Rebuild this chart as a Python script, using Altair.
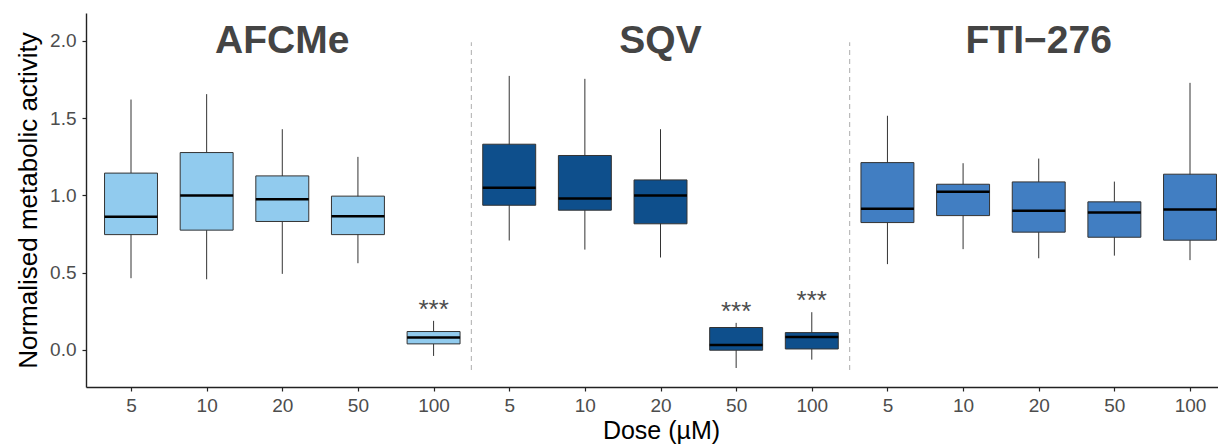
import altair as alt
import pandas as pd

drugs = ["AFCMe"] * 5 + ["SQV"] * 5 + ["FTI−276"] * 5
doses = ["5", "10", "20", "50", "100"] * 3
lower = [0.464, 0.457, 0.492, 0.561, -0.039,
         0.708, 0.649, 0.598, -0.117, -0.063,
         0.555, 0.652, 0.593, 0.610, 0.581]
q1 = [0.746, 0.775, 0.831, 0.746, 0.039,
      0.936, 0.904, 0.816, -0.002, 0.006,
      0.824, 0.869, 0.762, 0.729, 0.710]
median = [0.861, 0.999, 0.975, 0.865, 0.080,
          1.049, 0.979, 0.999, 0.032, 0.084,
          0.913, 1.023, 0.900, 0.889, 0.908]
q3 = [1.144, 1.277, 1.126, 0.995, 0.119,
      1.331, 1.258, 1.100, 0.145, 0.112,
      1.212, 1.072, 1.087, 0.958, 1.137]
upper = [1.620, 1.655, 1.428, 1.249, 0.188,
         1.773, 1.754, 1.428, 0.175, 0.244,
         1.515, 1.208, 1.238, 1.089, 1.728]
signif = ["", "", "", "", "***",
          "", "", "", "***", "***",
          "", "", "", "", ""]

drug_names = ["AFCMe", "SQV", "FTI−276"]
drug_colors = ["#91CBEE", "#0E4F8C", "#417EC2"]
separators = [5.5, 10.5]
sep_low, sep_high = -0.13, 1.99

df = pd.DataFrame({
    "pos": list(range(1, 16)),
    "drug": drugs, "dose": doses,
    "lower": lower, "q1": q1, "median": median, "q3": q3, "upper": upper,
    "signif": signif,
})
titles_df = pd.DataFrame({"drug": drug_names, "pos": [3, 8, 13]})
sep_df = pd.DataFrame({"x": separators, "y": [sep_low] * 2, "y2": [sep_high] * 2})

label_map = "{" + ",".join(f"'{p}':'{d}'" for p, d in zip(range(1, 16), doses)) + "}"

xscale = alt.Scale(domain=[0.405, 15.37], nice=False, zero=False)
yscale = alt.Scale(domain=[-0.24, 2.18], nice=False, zero=False)
color = alt.Color("drug:N", scale=alt.Scale(domain=drug_names, range=drug_colors), legend=None)

base = alt.Chart(df)

xaxis = alt.Axis(
    values=list(range(1, 16)),
    labelExpr=f"{label_map}[''+datum.value]",
    title="Dose (µM)", grid=False, domainColor="#222", domainWidth=1.4,
    tickColor="#222", tickWidth=1.2, tickSize=4,
    labelFontSize=19, labelColor="#4d4d4d", labelFont="Liberation Sans",
    titleFontSize=25, titleColor="#000", titleFont="Liberation Sans",
    titleFontWeight="normal", labelPadding=5, titlePadding=3, titleX=575,
)
yaxis = alt.Axis(
    values=[0, 0.5, 1, 1.5, 2], format=".1f",
    title="Normalised metabolic activity", grid=False,
    domainColor="#222", domainWidth=1.4, tickColor="#222", tickWidth=1.2, tickSize=4,
    labelFontSize=19, labelColor="#4d4d4d", labelFont="Liberation Sans",
    titleFontSize=26, titleColor="#000", titleFont="Liberation Sans",
    titleFontWeight="normal", labelPadding=6, titlePadding=8,
)

whisker = base.mark_rule(color="#333", strokeWidth=1).encode(
    x=alt.X("pos:Q", scale=xscale, axis=xaxis),
    y=alt.Y("lower:Q", scale=yscale, axis=yaxis),
    y2="upper:Q",
)
box = base.transform_calculate(
    xl="datum.pos - 0.35", xr="datum.pos + 0.35"
).mark_rect(stroke="#333", strokeWidth=1).encode(
    x="xl:Q", x2="xr:Q", y="q1:Q", y2="q3:Q", color=color,
)
med = base.transform_calculate(
    xl="datum.pos - 0.35", xr="datum.pos + 0.35"
).mark_rule(color="#000", strokeWidth=2.5).encode(
    x="xl:Q", x2="xr:Q", y="median:Q",
)
stars = base.transform_filter("datum.signif != ''").mark_text(
    fontSize=26, color="#4d4d4d", font="Liberation Sans", baseline="alphabetic", dy=-3
).encode(
    x="pos:Q", y="upper:Q", text="signif:N",
)
seps = alt.Chart(sep_df).mark_rule(color="#bbbbbb", strokeWidth=1.2, strokeDash=[5, 4]).encode(
    x="x:Q", y="y:Q", y2="y2:Q",
)
titles = alt.Chart(titles_df).mark_text(
    fontSize=39, fontWeight="bold", color="#444444", font="Liberation Sans", baseline="alphabetic"
).encode(
    x="pos:Q", y=alt.value(40), text="drug:N",
)

chart = alt.layer(whisker, seps, box, med, stars, titles).properties(
    width=1132, height=374,
    autosize=alt.AutoSizeParams(type="none"),
    padding={"left": 78, "top": 5, "right": 0, "bottom": 57},
).configure_view(stroke=None)

chart.save("out.html", embed_options={"renderer": "svg", "actions": False})
